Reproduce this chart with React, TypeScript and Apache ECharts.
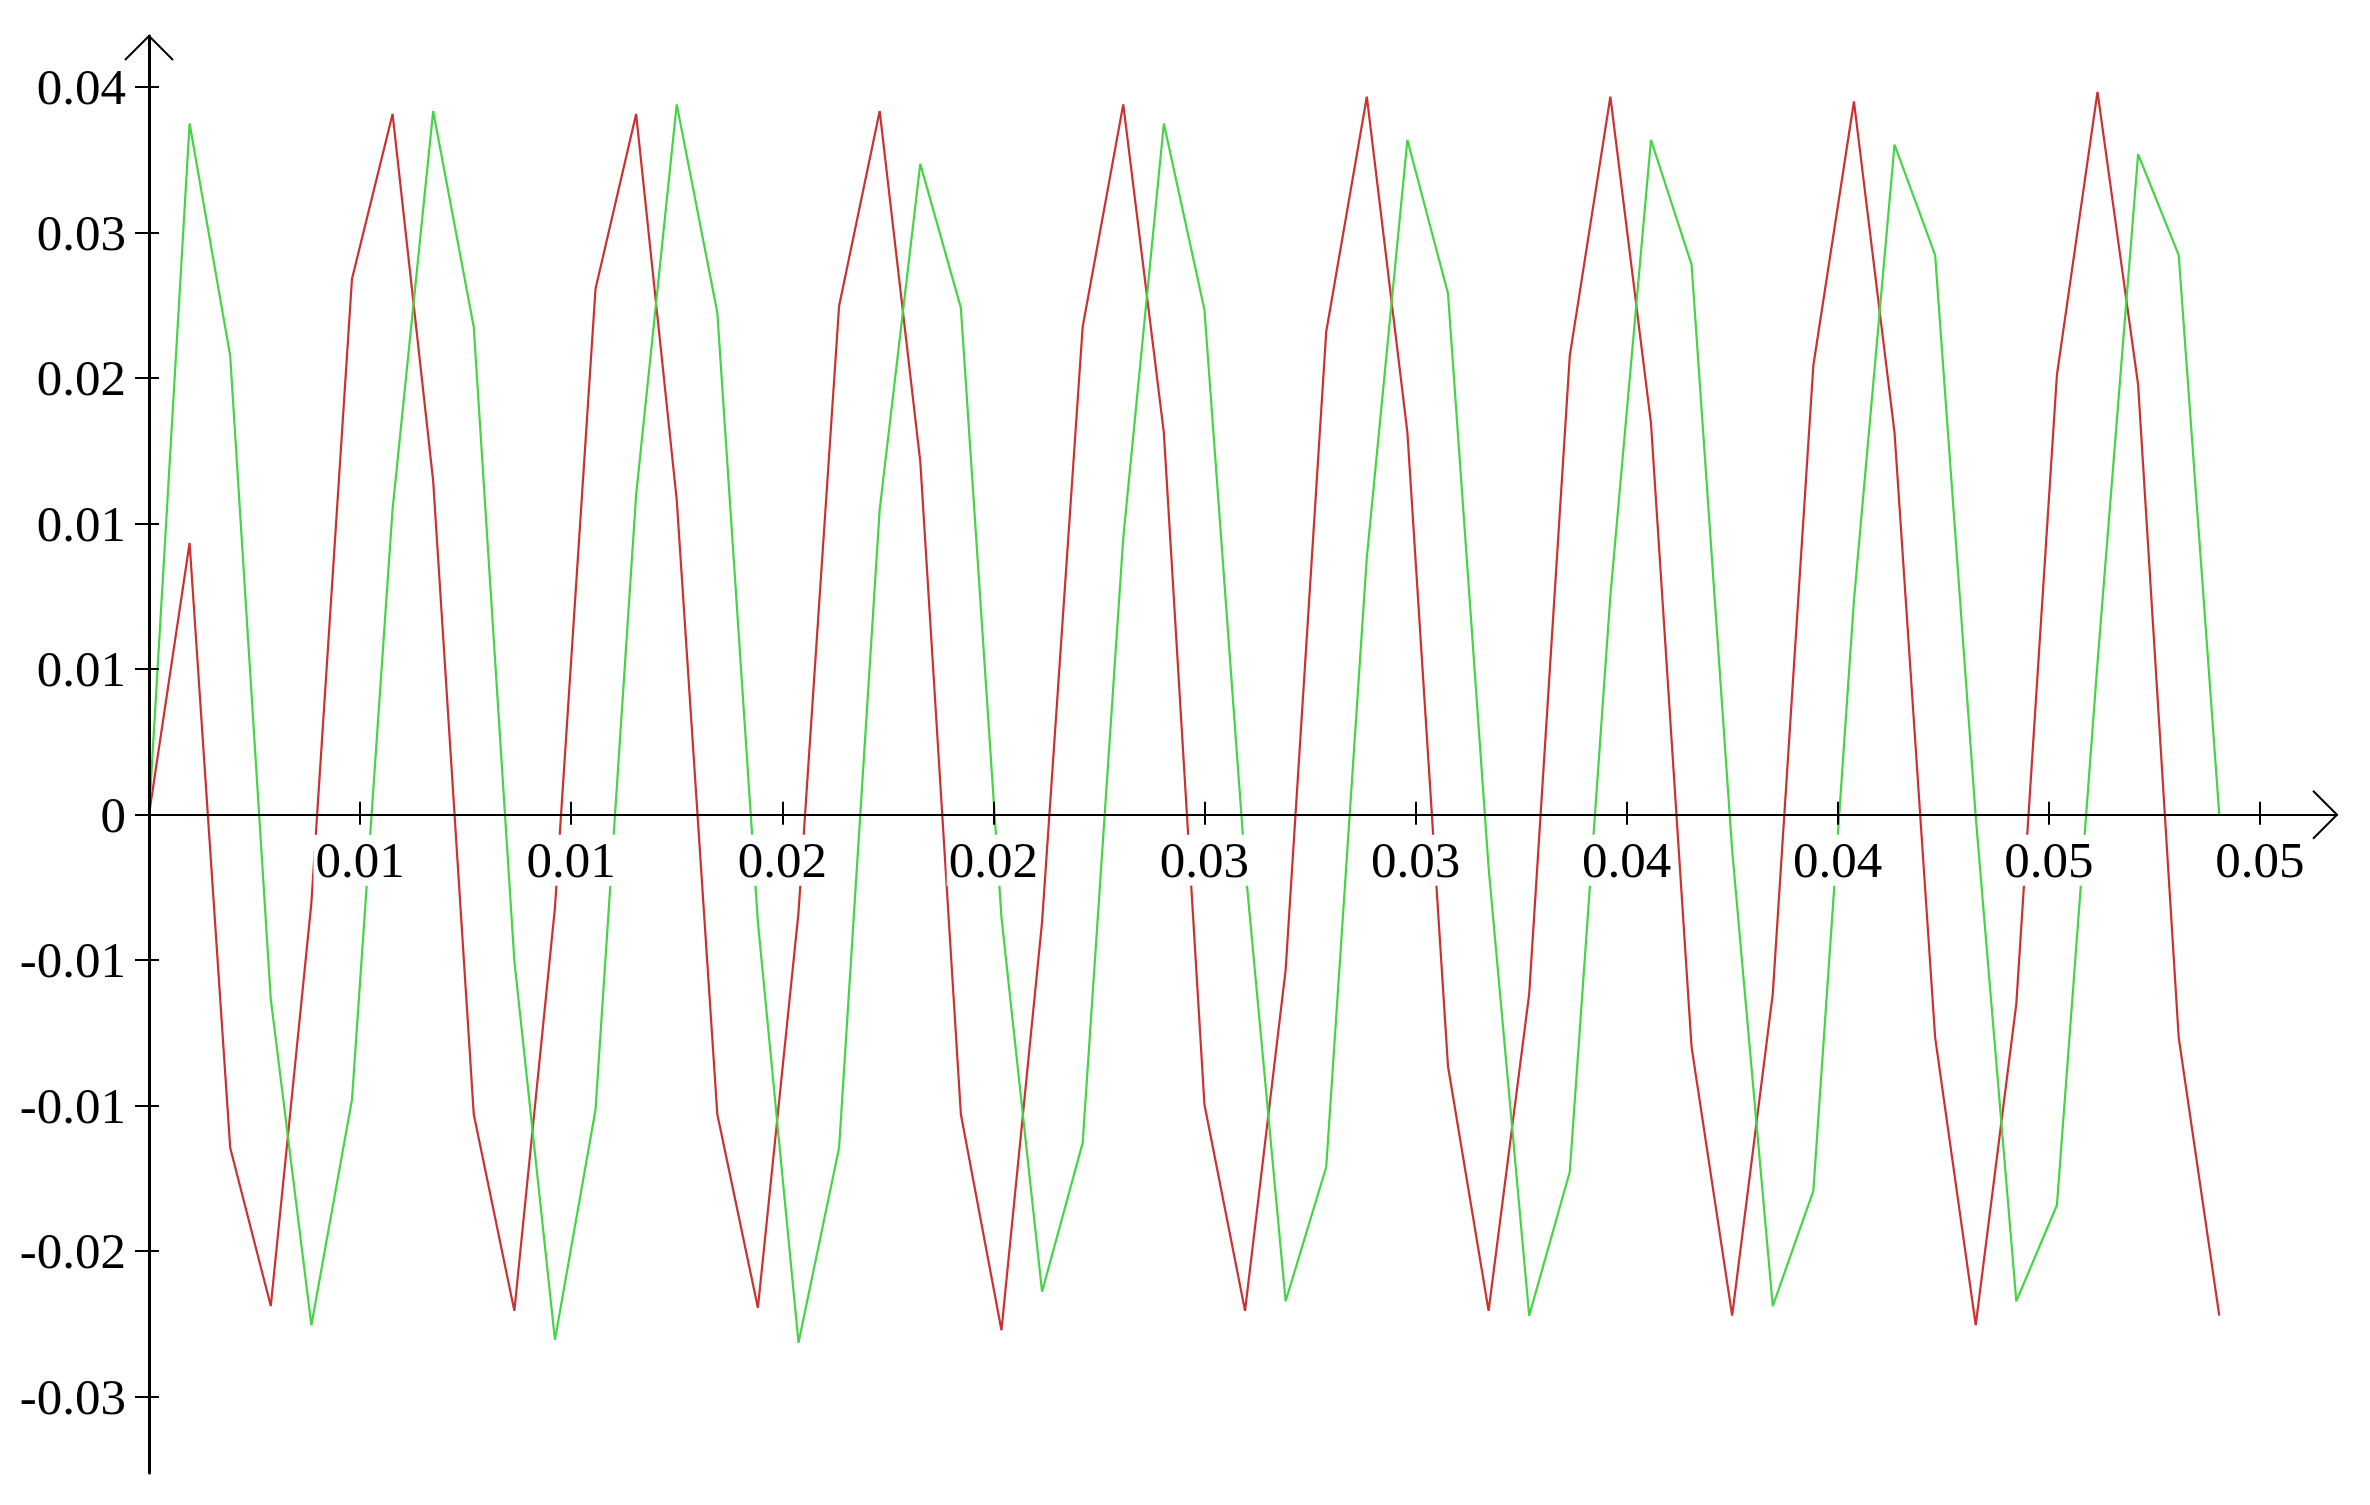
import React, { useEffect, useRef } from "react";
import * as echarts from "echarts";

// sample times (s)
const TIME = [
  0, 0.001, 0.002, 0.003, 0.004, 0.005, 0.006, 0.007, 0.008, 0.009,
  0.010, 0.011, 0.012, 0.013, 0.014, 0.015, 0.016, 0.017, 0.018, 0.019,
  0.020, 0.021, 0.022, 0.023, 0.024, 0.025, 0.026, 0.027, 0.028, 0.029,
  0.030, 0.031, 0.032, 0.033, 0.034, 0.035, 0.036, 0.037, 0.038, 0.039,
  0.040, 0.041, 0.042, 0.043, 0.044, 0.045, 0.046, 0.047, 0.048, 0.049,
  0.050, 0.051,
];

const RED = [
  0, 0.01307, -0.01602, -0.02364, -0.00425, 0.02577, 0.03371, 0.01607, -0.01441, -0.02387,
  -0.00448, 0.0253, 0.03371, 0.01515, -0.01441, -0.02373, -0.00471, 0.02447, 0.03385, 0.01699,
  -0.01441, -0.0248, -0.00517, 0.02346, 0.03417, 0.01838, -0.01394, -0.02387, -0.00748, 0.02323,
  0.03454, 0.01838, -0.0121, -0.02387, -0.00863, 0.02207, 0.03454, 0.01884, -0.01117, -0.0241,
  -0.00863, 0.02161, 0.03431, 0.01838, -0.01071, -0.02456, -0.0091, 0.02115, 0.03477, 0.02069,
  -0.01071, -0.0241,
];

const GREEN = [
  0, 0.03325, 0.02207, -0.00887, -0.02456, -0.01371, 0.01468, 0.03385, 0.02346, -0.00702,
  -0.02526, -0.01418, 0.01538, 0.03417, 0.02415, -0.00517, -0.0254, -0.01602, 0.01468, 0.03131,
  0.02438, -0.00494, -0.02295, -0.01579, 0.0133, 0.03325, 0.02429, -0.0024, -0.02341, -0.01695,
  0.01237, 0.03246, 0.02507, -0.00254, -0.0241, -0.01718, 0.01053, 0.03246, 0.02646, -0.00171,
  -0.02364, -0.0181, 0.0103, 0.03223, 0.02692, -0.00009, -0.02341, -0.01879, 0.0073, 0.03177,
  0.02692, 0,
];

const X_TICKS = [0.0052, 0.0104, 0.0156, 0.0208, 0.026, 0.0312, 0.0364, 0.0416, 0.0468, 0.052];
const X_LABELS = ["0.01", "0.01", "0.02", "0.02", "0.03", "0.03", "0.04", "0.04", "0.05", "0.05"];
const Y_TICKS = [-0.028, -0.021, -0.014, -0.007, 0, 0.007, 0.014, 0.021, 0.028, 0.035];
const Y_LABELS = ["-0.03", "-0.02", "-0.01", "-0.01", "0", "0.01", "0.01", "0.02", "0.03", "0.04"];

const X_MIN = 0;
const X_MAX = 0.0539;
const Y_MIN = -0.03167;
const Y_MAX = 0.03746;

const FONT = "Liberation Serif";

function lookup(ticks: number[], labels: string[], v: number) {
  let best = -1;
  let bd = Infinity;
  ticks.forEach((t, i) => {
    const d = Math.abs(t - v);
    if (d < bd) {
      bd = d;
      best = i;
    }
  });
  return best >= 0 && bd < 1e-6 ? labels[best] : "";
}

function buildX(offset: number, showLabels: boolean) {
  const base = {
    type: "value" as const,
    min: X_MIN,
    max: X_MAX,
    position: "bottom" as const,
    offset,
    z: 10,
    splitLine: { show: false },
  };
  return [
    {
      ...base,
      axisLine: { onZero: false, lineStyle: { color: "#000", width: 2 } },
      axisTick: {
        show: true,
        inside: false,
        length: 10,
        customValues: X_TICKS,
        lineStyle: { color: "#000", width: 2 },
      },
      axisLabel: {
        show: showLabels,
        customValues: X_TICKS,
        margin: 20,
        fontFamily: FONT,
        fontSize: 51,
        color: "#000",
        backgroundColor: "#ffffff",
        padding: [0, 2, 0, 2],
        formatter: (v: number) => lookup(X_TICKS, X_LABELS, v),
      },
    },
    {
      ...base,
      axisLine: { show: false, onZero: false },
      axisTick: {
        show: true,
        inside: true,
        length: 13,
        customValues: X_TICKS,
        lineStyle: { color: "#000", width: 2 },
      },
      axisLabel: { show: false },
    },
  ];
}

export default function App() {
  const ref = useRef<HTMLDivElement>(null);

  useEffect(() => {
    if (!ref.current) return;
    const chart = echarts.init(ref.current, null, { renderer: "svg" });

    const yBase = {
      type: "value" as const,
      min: Y_MIN,
      max: Y_MAX,
      position: "left" as const,
      z: 10,
      splitLine: { show: false },
    };

    chart.setOption({
      animation: false,
      backgroundColor: "#ffffff",
      grid: {
        left: 149,
        right: 33,
        top: 36,
        bottom: 32,
        containLabel: false,
        outerBoundsMode: "none",
      },
      xAxis: buildX(0, false),
      yAxis: [
        {
          ...yBase,
          axisLine: { onZero: false, lineStyle: { color: "#000", width: 3 } },
          axisTick: {
            show: true,
            inside: false,
            length: 14,
            customValues: Y_TICKS,
            lineStyle: { color: "#000", width: 2 },
          },
          axisLabel: {
            show: true,
            customValues: Y_TICKS,
            margin: 23,
            fontFamily: FONT,
            fontSize: 51,
            color: "#000",
            formatter: (v: number) => lookup(Y_TICKS, Y_LABELS, v),
          },
        },
        {
          ...yBase,
          axisLine: { show: false, onZero: false },
          axisTick: {
            show: true,
            inside: true,
            length: 10,
            customValues: Y_TICKS,
            lineStyle: { color: "#000", width: 2 },
          },
          axisLabel: { show: false },
        },
      ],
      series: [
        {
          type: "line",
          xAxisIndex: 0,
          yAxisIndex: 0,
          showSymbol: false,
          data: TIME.map((t, i) => [t, RED[i]]),
          lineStyle: { color: "#cc3030", width: 2.2 },
          itemStyle: { color: "#cc3030" },
        },
        {
          type: "line",
          xAxisIndex: 0,
          yAxisIndex: 0,
          showSymbol: false,
          data: TIME.map((t, i) => [t, GREEN[i]]),
          lineStyle: { color: "#45d445", width: 2.2 },
          itemStyle: { color: "#45d445" },
        },
      ],
    });

    // place the x axis on the y = 0 line
    const bottom = chart.convertToPixel({ gridIndex: 0 }, [X_MIN, Y_MIN]) as number[];
    const zero = chart.convertToPixel({ gridIndex: 0 }, [X_MIN, 0]) as number[];
    chart.setOption({ xAxis: buildX(-(bottom[1] - zero[1]), true) });

    // open arrow heads at the axis ends
    const top = chart.convertToPixel({ gridIndex: 0 }, [X_MIN, Y_MAX]) as number[];
    const right = chart.convertToPixel({ gridIndex: 0 }, [X_MAX, 0]) as number[];
    const a = 24;
    chart.setOption({
      graphic: [
        {
          type: "polyline",
          z: 20,
          shape: {
            points: [
              [top[0] - a, top[1] + a],
              [top[0], top[1]],
              [top[0] + a, top[1] + a],
            ],
          },
          style: { stroke: "#000", lineWidth: 2, fill: null },
        },
        {
          type: "polyline",
          z: 20,
          shape: {
            points: [
              [right[0] - a, right[1] - a],
              [right[0], right[1]],
              [right[0] - a, right[1] + a],
            ],
          },
          style: { stroke: "#000", lineWidth: 2, fill: null },
        },
      ],
    });

    return () => chart.dispose();
  }, []);

  return (
    <div
      ref={ref}
      style={{ position: "absolute", left: 0, top: 0, width: 2370, height: 1505 }}
    />
  );
}
